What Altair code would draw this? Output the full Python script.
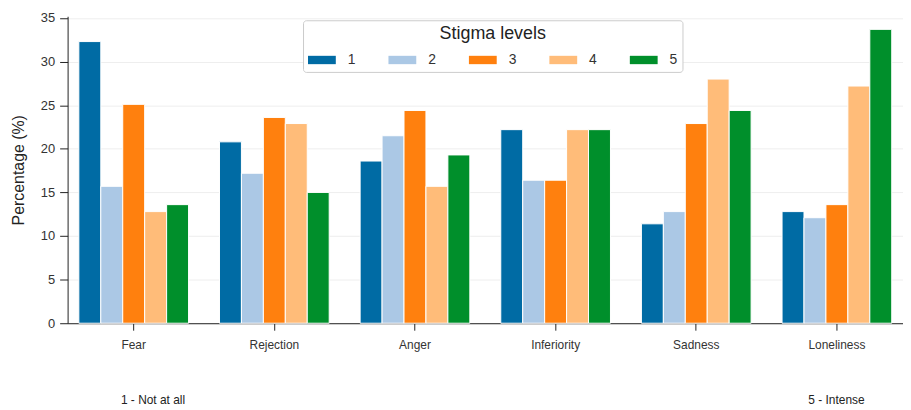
import altair as alt
import pandas as pd

emotions = ["Fear", "Rejection", "Anger", "Inferiority", "Sadness", "Loneliness"]
levels = ["1", "2", "3", "4", "5"]
level1 = [32.3, 20.8, 18.6, 22.2, 11.4, 12.8]
level2 = [15.7, 17.2, 21.5, 16.4, 12.8, 12.1]
level3 = [25.1, 23.6, 24.4, 16.4, 22.9, 13.6]
level4 = [12.8, 22.9, 15.7, 22.2, 28.0, 27.2]
level5 = [13.6, 15.0, 19.3, 22.2, 24.4, 33.7]
colors = ["#006BA4", "#ABC8E5", "#FF800E", "#FFBC79", "#008F2B"]
notes = ["1 - Not at all", "5 - Intense"]

series = [level1, level2, level3, level4, level5]
rows = []
for lv, vals in zip(levels, series):
    for e, v in zip(emotions, vals):
        rows.append({"Emotion": e, "Level": lv, "Value": v})
df = pd.DataFrame(rows)

FONT = "Liberation Sans"

bars = alt.Chart(df).mark_bar(stroke="white", strokeWidth=1).encode(
    x=alt.X("Emotion:N", sort=emotions,
            scale=alt.Scale(paddingInner=0.22, paddingOuter=0.08),
            axis=alt.Axis(title=None, labelAngle=0, labelFontSize=12, labelColor="#333",
                          labelFont=FONT, domainColor="#222", tickColor="#222",
                          tickSize=7, labelPadding=9, grid=False)),
    xOffset=alt.XOffset("Level:N", sort=levels),
    y=alt.Y("Value:Q", scale=alt.Scale(domain=[0, 35.2], nice=False),
            axis=alt.Axis(title="Percentage (%)", values=[0, 5, 10, 15, 20, 25, 30, 35],
                          titleFontSize=16, titleFontWeight="normal", titleColor="#222",
                          titleFont=FONT, labelFont=FONT, labelFontSize=13, labelColor="#333",
                          domainColor="#222", tickColor="#222", tickSize=8, labelPadding=5,
                          gridColor="#eeeeee", titlePadding=14)),
    color=alt.Color("Level:N", sort=levels,
                    scale=alt.Scale(domain=levels, range=colors),
                    legend=alt.Legend(title="Stigma levels", orient="none",
                                      legendX=237, legendY=4, direction="horizontal",
                                      columns=5, titleFontSize=18, titleFontWeight="normal",
                                      titleFont=FONT, titleColor="#222",
                                      titleAnchor="middle", titleAlign="center",
                                      labelFont=FONT, labelFontSize=14, labelColor="#333",
                                      symbolType="M-1,-0.3L1,-0.3L1,0.3L-1,0.3Z",
                                      symbolSize=784, symbolStrokeWidth=0,
                                      labelOffset=12, columnPadding=33,
                                      strokeColor="#cccccc", fillColor="white",
                                      cornerRadius=3, padding=5, titlePadding=3)),
)

note_left = alt.Chart(pd.DataFrame({"note": [notes[0]]})).mark_text(
    fontSize=12, font=FONT, color="#222", align="center").encode(
    x=alt.value(86), y=alt.value(386), text="note:N")
note_right = alt.Chart(pd.DataFrame({"note": [notes[1]]})).mark_text(
    fontSize=12, font=FONT, color="#222", align="center").encode(
    x=alt.value(774), y=alt.value(386), text="note:N")

chart = alt.layer(bars, note_left, note_right).properties(
    width=841, height=309,
    padding={"left": 2, "top": 2, "right": 0, "bottom": 0},
).configure_view(stroke=None)

chart.save("out.html", embed_options={"renderer": "svg", "actions": False})
